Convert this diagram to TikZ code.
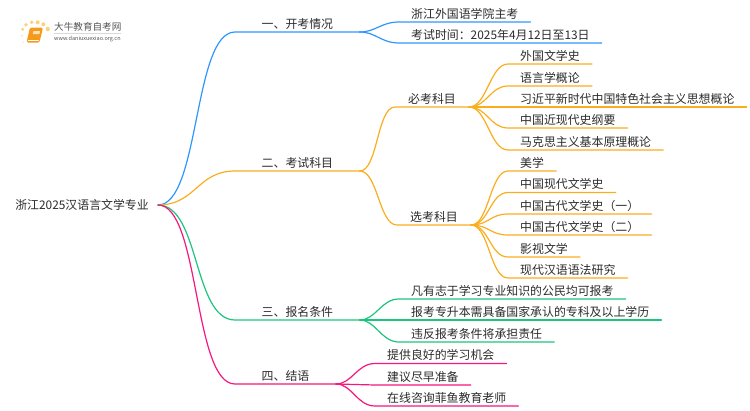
\documentclass[tikz,border=0pt]{standalone}
\usepackage{fontspec}
\setmainfont{Noto Sans CJK SC}
\definecolor{topicText}{HTML}{2B2B2B}
\definecolor{logoText}{HTML}{555555}
\definecolor{blueLine}{HTML}{2F96FF}
\definecolor{orangeLine}{HTML}{FAAE1E}
\definecolor{greenLine}{HTML}{1CC47E}
\definecolor{pinkLine}{HTML}{F5167E}
\definecolor{logoOrange}{HTML}{F59A1B}
\definecolor{logoDot}{HTML}{FBD27A}
\tikzset{
  topic/.style={font=\fontsize{11.9}{14}\selectfont, text=topicText, inner ysep=2.4pt},
  rootTopic/.style={topic, anchor=east, inner xsep=9pt},
  branchTopic/.style={topic, anchor=south west, inner xsep=26.5pt},
  subTopic/.style={topic, anchor=south west, inner xsep=13pt},
  leafTopic/.style={topic, anchor=south west, inner xsep=12pt},
  edge/.style={line width=1.2pt, line cap=round}
}
\begin{document}
\begin{tikzpicture}[x=1pt,y=-1pt]
\useasboundingbox (0,0) rectangle (750,410);
% logo
\fill[logoDot] (22.7,29.3) circle (1.6);
\fill[logoDot] (26,24.7) circle (1.8);
\fill[logoDot] (31.7,22.3) circle (1.9);
\fill[logoDot] (37.7,22.3) circle (2);
\fill[logoDot] (43.3,24.3) circle (2);
\fill[logoDot] (47.7,29) circle (2.2);
\fill[logoDot!60] (22,35.7) circle (1.2);
\fill[logoDot!40] (23.3,42.3) circle (1.1);
\fill[logoOrange, rounded corners=1.5pt] (30,27.5) -- (43,27.5) -- (39.5,42.5) -- (26.5,42.5) -- cycle;
\fill[white!70!logoOrange] (33.5,31) -- (40,31) -- (39.4,34) -- (32.8,34) -- cycle;
\draw[white, line width=0.6pt] (27.5,40) -- (38.5,40);
\node[font=\fontsize{9.6}{11}\selectfont, text=logoText, anchor=west, inner sep=0pt] (logoTitle) at (54,27) {大牛教育自考网};
\node[font=\fontsize{5.5}{7}\selectfont, text=logoText, anchor=west, inner sep=0pt] (logoSite) at (54,38.5) {www.daniuxuexiao.org.cn};
\draw[black!15, line width=0.5pt] (logoTitle.south west) ++(0,1.5) -- ++(67,0);

% nodes
\node[rootTopic] (rootNode) at (158,205) {浙江2025汉语言文学专业};

\node[branchTopic] (examInfo) at (235,32) {一、开考情况};
\node[branchTopic] (examSubjects) at (235,171) {二、考试科目};
\node[branchTopic] (applyRules) at (235,320) {三、报名条件};
\node[branchTopic] (closingWords) at (235,384) {四、结语};

\node[leafTopic] (hostSchool) at (399,22) {浙江外国语学院主考};
\node[leafTopic] (examDate) at (399,43) {考试时间：2025年4月12日至13日};

\node[subTopic] (requiredSubjects) at (395,107) {必考科目};
\node[subTopic] (electiveSubjects) at (397,225) {选考科目};

\node[leafTopic] (foreignLit) at (508,64) {外国文学史};
\node[leafTopic] (linguistics) at (508,86) {语言学概论};
\node[leafTopic] (xiThought) at (508,107) {习近平新时代中国特色社会主义思想概论};
\node[leafTopic] (modernHistory) at (508,128) {中国近现代史纲要};
\node[leafTopic] (marxism) at (508,150) {马克思主义基本原理概论};

\node[leafTopic] (aesthetics) at (508,171) {美学};
\node[leafTopic] (modernLit) at (508,192.5) {中国现代文学史};
\node[leafTopic] (ancientLitOne) at (508,214) {中国古代文学史（一）};
\node[leafTopic] (ancientLitTwo) at (508,235) {中国古代文学史（二）};
\node[leafTopic] (filmLit) at (508,257) {影视文学};
\node[leafTopic] (grammar) at (508,278) {现代汉语语法研究};

\node[leafTopic] (citizens) at (399,299) {凡有志于学习专业知识的公民均可报考};
\node[leafTopic] (diploma) at (399,320) {报考专升本需具备国家承认的专科及以上学历};
\node[leafTopic] (violation) at (399,342) {违反报考条件将承担责任};

\node[leafTopic] (chance) at (375,363.5) {提供良好的学习机会};
\node[leafTopic] (earlyPrep) at (375,385) {建议尽早准备};
\node[leafTopic] (consult) at (375,406) {在线咨询菲鱼教育老师};

% branches
\draw[edge,blueLine] (rootNode.east) .. controls +(42,0) and +(-42,0) .. (examInfo.south west) -- (examInfo.south east);
\draw[edge,orangeLine] (rootNode.east) .. controls +(38,0) and +(-38,0) .. (examSubjects.south west) -- (examSubjects.south east);
\draw[edge,greenLine] (rootNode.east) .. controls +(42,0) and +(-42,0) .. (applyRules.south west) -- (applyRules.south east);
\draw[edge,pinkLine] (rootNode.east) .. controls +(42,0) and +(-42,0) .. (closingWords.south west) -- (closingWords.south east);

% first branch
\draw[edge,blueLine] (examInfo.south east) .. controls +(16,0) and +(-18,0) .. (hostSchool.south west) -- (hostSchool.south east);
\draw[edge,blueLine] (examInfo.south east) .. controls +(16,0) and +(-18,0) .. (examDate.south west) -- (examDate.south east);

% second branch
\draw[edge,orangeLine] (examSubjects.south east) .. controls +(18,0) and +(-18,0) .. (requiredSubjects.south west) -- (requiredSubjects.south east);
\draw[edge,orangeLine] (examSubjects.south east) .. controls +(18,0) and +(-18,0) .. (electiveSubjects.south west) -- (electiveSubjects.south east);
\draw[edge,orangeLine] (requiredSubjects.south east) .. controls +(18,0) and +(-18,0) .. (foreignLit.south west) -- (foreignLit.south east);
\draw[edge,orangeLine] (requiredSubjects.south east) .. controls +(18,0) and +(-18,0) .. (linguistics.south west) -- (linguistics.south east);
\draw[edge,orangeLine] (requiredSubjects.south east) -- (xiThought.south west) -- (xiThought.south east);
\draw[edge,orangeLine] (requiredSubjects.south east) .. controls +(18,0) and +(-18,0) .. (modernHistory.south west) -- (modernHistory.south east);
\draw[edge,orangeLine] (requiredSubjects.south east) .. controls +(18,0) and +(-18,0) .. (marxism.south west) -- (marxism.south east);
\draw[edge,orangeLine] (electiveSubjects.south east) .. controls +(18,0) and +(-18,0) .. (aesthetics.south west) -- (aesthetics.south east);
\draw[edge,orangeLine] (electiveSubjects.south east) .. controls +(18,0) and +(-18,0) .. (modernLit.south west) -- (modernLit.south east);
\draw[edge,orangeLine] (electiveSubjects.south east) .. controls +(18,0) and +(-18,0) .. (ancientLitOne.south west) -- (ancientLitOne.south east);
\draw[edge,orangeLine] (electiveSubjects.south east) .. controls +(18,0) and +(-18,0) .. (ancientLitTwo.south west) -- (ancientLitTwo.south east);
\draw[edge,orangeLine] (electiveSubjects.south east) .. controls +(18,0) and +(-18,0) .. (filmLit.south west) -- (filmLit.south east);
\draw[edge,orangeLine] (electiveSubjects.south east) .. controls +(18,0) and +(-18,0) .. (grammar.south west) -- (grammar.south east);

% third branch
\draw[edge,greenLine] (applyRules.south east) .. controls +(16,0) and +(-18,0) .. (citizens.south west) -- (citizens.south east);
\draw[edge,greenLine] (applyRules.south east) -- (diploma.south west) -- (diploma.south east);
\draw[edge,greenLine] (applyRules.south east) .. controls +(16,0) and +(-18,0) .. (violation.south west) -- (violation.south east);

% fourth branch
\draw[edge,pinkLine] (closingWords.south east) .. controls +(16,0) and +(-18,0) .. (chance.south west) -- (chance.south east);
\draw[edge,pinkLine] (closingWords.south east) -- (earlyPrep.south west) -- (earlyPrep.south east);
\draw[edge,pinkLine] (closingWords.south east) .. controls +(16,0) and +(-18,0) .. (consult.south west) -- (consult.south east);
\end{tikzpicture}
\end{document}
